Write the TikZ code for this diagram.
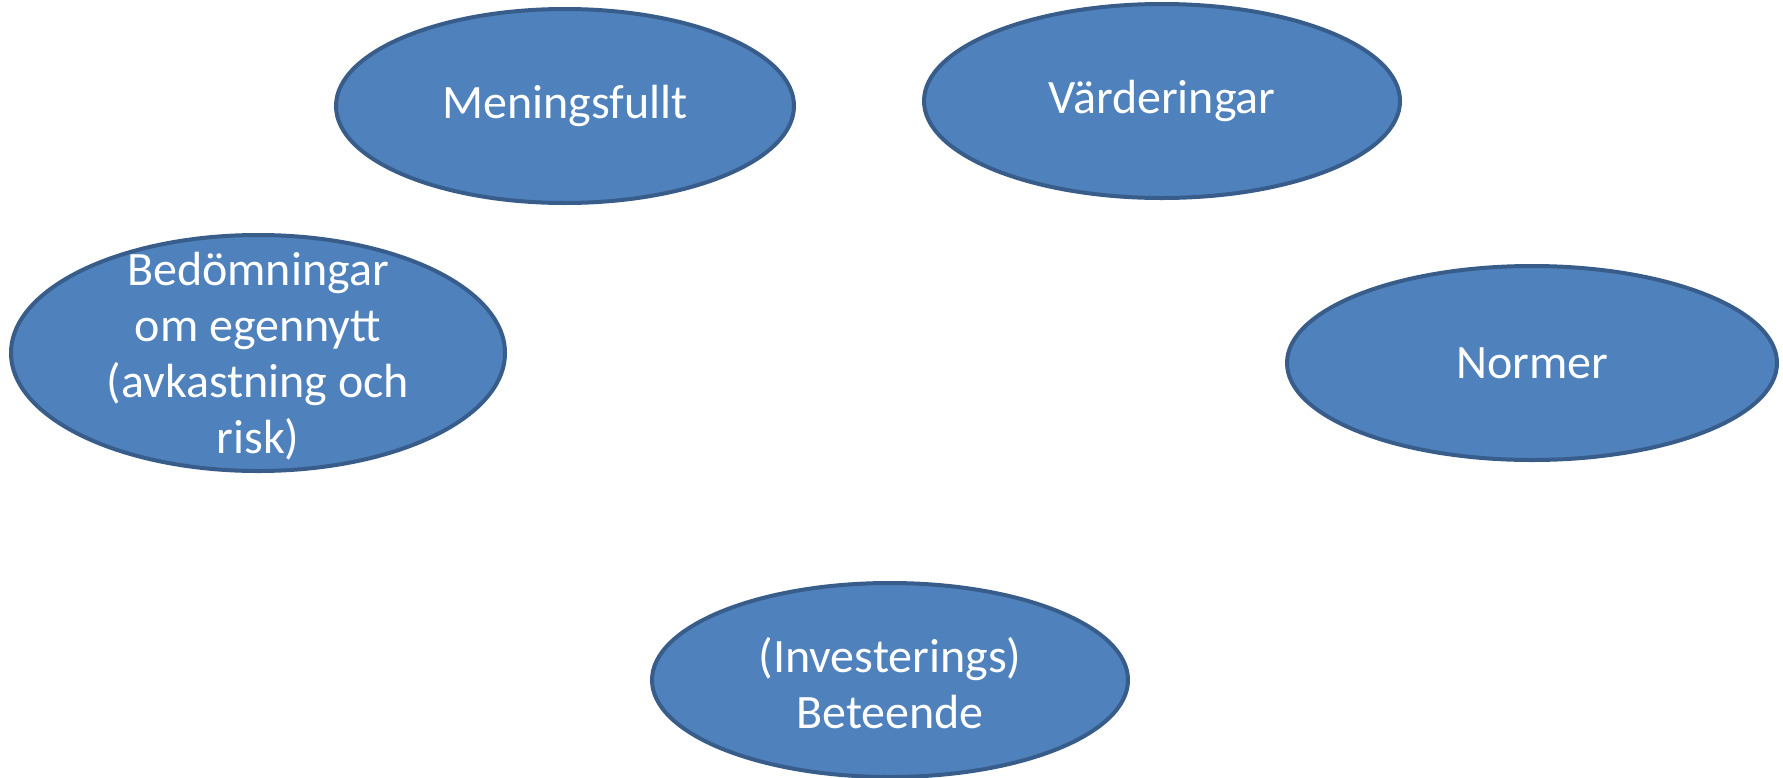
\documentclass[tikz,border=0pt]{standalone}
\usepackage{fontspec}
\setmainfont{Carlito}
\usetikzlibrary{shapes.geometric}
\definecolor{ofill}{HTML}{4F81BD}
\definecolor{oline}{HTML}{385D8A}
\begin{document}
\begin{tikzpicture}[x=1pt,y=-1pt,
  oval/.style={ellipse, draw=oline, fill=ofill, line width=4pt, inner sep=0pt},
  lbl/.style={text=white, align=center, inner sep=0pt, font=\fontsize{48}{56}\selectfont}]
\useasboundingbox (0,0) rectangle (1783,777);
\node[oval, minimum width=458pt, minimum height=194pt] (men) at (565,106) {};
\node[lbl] (mentxt) at (men) {Meningsfullt};
\node[oval, minimum width=476pt, minimum height=194pt] (var) at (1162,101) {};
\node[lbl] (vartxt) at (var) {Värderingar};
\node[oval, minimum width=494pt, minimum height=236pt] (bed) at (258,353) {};
\node[lbl] (bedtxt) at (258,356) {Bedömningar\\om egennytt\\(avkastning och\\risk)};
\node[oval, minimum width=490pt, minimum height=194pt] (nor) at (1532,363) {};
\node[lbl] (nortxt) at (nor) {Normer};
\node[oval, minimum width=476pt, minimum height=194pt] (inv) at (890,680) {};
\node[lbl] (invtxt) at (890,683) {(Investerings)\\Beteende};
\end{tikzpicture}
\end{document}
